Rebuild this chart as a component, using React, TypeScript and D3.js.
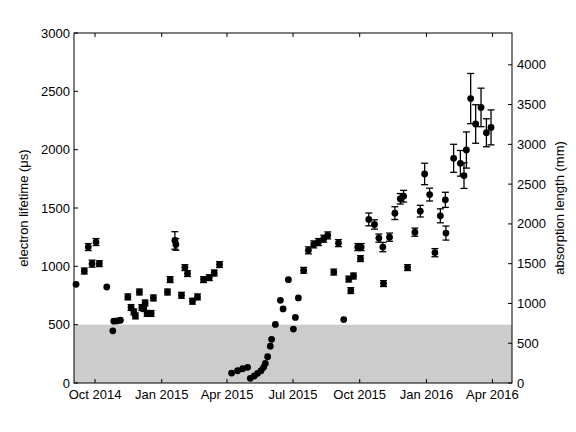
import * as d3 from 'd3';
import React, { useEffect, useRef } from 'react';

// days since 1 Oct 2014, electron lifetime (us), error (us, 0 = no bar)
const days = [
  -26.2, -14.8, -9.3, -4.1, 1.4, 5.9, 16.2, 24.5, 25.8, 30.4, 35.0, 45.2, 49.7, 53.5, 55.7, 61.2,
  64.5, 67.3, 69.1, 71.8, 77.4, 80.5, 99.9, 103.6, 110.1, 111.5, 119.2, 123.9, 127.5, 134.4, 141.3,
  149.6, 157.5, 164.4, 171.7,
  188.3, 196.6, 203.5, 210.4, 214.1, 219.6, 224.2, 228.9, 232.5, 234.8, 238.0, 241.7, 243.5, 248.7,
  255.6, 259.3, 266.6, 273.5, 276.3, 280.4, 287.7, 294.2, 301.6, 308.1, 315.4, 320.9, 335.7, 329.2,
  343.0, 349.9, 352.7, 356.4, 362.3, 367.0, 366.1, 377.5, 385.4, 391.4, 396.9, 397.8, 406.1, 413.5,
  420.9, 425.5, 431.0, 441.1, 448.5, 454.5, 461.4, 468.7, 476.2, 483.1, 483.9, 494.5, 503.8, 508.8,
  512.1, 518.0, 524.9, 532.3, 539.7, 546.1
];
const lifetime = [
  846, 960, 1165, 1023, 1208, 1023, 823, 447, 530, 532, 538, 738, 647, 609, 575, 780,
  647, 638, 686, 596, 596, 729, 780, 886, 1222, 1188, 752, 989, 938, 701, 738,
  886, 903, 943, 1015,
  85, 105, 122, 134, 40, 60, 83, 105, 134, 168, 225, 316, 374, 502,
  709, 635, 886, 462, 562, 729, 966, 1137, 1188, 1208, 1237, 1265, 1199, 951,
  544, 891, 792, 917, 1165, 1165, 1066, 1402, 1359, 1242, 1165, 852, 1250, 1456,
  1579, 1601, 989, 1293, 1473, 1792, 1615, 1117, 1433, 1570, 1285, 1926, 1883, 1778,
  1997, 2438, 2220, 2362, 2145, 2191
];
const err = [
  0, 25, 30, 30, 30, 25, 0, 0, 0, 0, 0, 25, 25, 25, 25, 25,
  25, 25, 25, 25, 25, 25, 25, 25, 75, 50, 25, 25, 25, 25, 25,
  25, 25, 25, 25,
  0, 0, 0, 0, 0, 0, 0, 0, 0, 0, 0, 0, 0, 0,
  0, 0, 0, 0, 0, 0, 25, 30, 30, 30, 30, 30, 30, 25,
  0, 25, 25, 25, 30, 30, 25, 55, 40, 35, 40, 25, 35, 55,
  45, 50, 25, 35, 50, 92, 55, 35, 60, 65, 60, 120, 110, 110,
  155, 215, 165, 165, 120, 150
];
const xTicks = ['2014-10-01', '2015-01-01', '2015-04-01', '2015-07-01', '2015-10-01', '2016-01-01', '2016-04-01'];
const leftTicks = [0, 500, 1000, 1500, 2000, 2500, 3000];
const rightTicks = [0, 500, 1000, 1500, 2000, 2500, 3000, 3500, 4000];

const App = () => {
  const ref = useRef<SVGSVGElement>(null);
  useEffect(() => {
    const svg = d3.select(ref.current);
    svg.selectAll('*').remove();
    const m = { l: 74, r: 512, t: 33, b: 383 };
    const t0 = new Date(2014, 9, 1);
    const toDate = (d: number) => new Date(t0.getTime() + d * 864e5);
    const x = d3.scaleTime().domain([toDate(-29), toDate(575)]).range([m.l, m.r]);
    const y = d3.scaleLinear().domain([0, 3000]).range([m.b, m.t]);
    const y2 = d3.scaleLinear().domain([0, 4400]).range([m.b, m.t]);
    const font = 'Liberation Sans, Arial, sans-serif';

    svg.append('rect').attr('x', m.l).attr('y', y(500)).attr('width', m.r - m.l)
      .attr('height', y(0) - y(500)).attr('fill', '#cccccc');

    const g = svg.append('g').attr('stroke', 'black').attr('fill', 'black');
    days.forEach((d, i) => {
      const cx = x(toDate(d));
      if (err[i] > 0) {
        const lo = y(lifetime[i] - err[i]), hi = y(lifetime[i] + err[i]);
        g.append('line').attr('x1', cx).attr('x2', cx).attr('y1', lo).attr('y2', hi).attr('stroke-width', 1.3);
        [lo, hi].forEach((yy) => g.append('line').attr('x1', cx - 3.5).attr('x2', cx + 3.5)
          .attr('y1', yy).attr('y2', yy).attr('stroke-width', 1.3));
      }
      g.append('circle').attr('cx', cx).attr('cy', y(lifetime[i])).attr('r', 3.4).attr('stroke', 'none');
    });

    const ax = svg.append('g').attr('stroke', 'black').attr('stroke-width', 1).attr('fill', 'none');
    ax.append('rect').attr('x', m.l).attr('y', m.t).attr('width', m.r - m.l).attr('height', m.b - m.t);
    const txt = svg.append('g').attr('font-family', font).attr('font-size', 13).attr('fill', 'black');
    xTicks.forEach((s) => {
      const dt = new Date(s + 'T00:00:00');
      const px = x(dt);
      ax.append('line').attr('x1', px).attr('x2', px).attr('y1', m.b).attr('y2', m.b - 4);
      ax.append('line').attr('x1', px).attr('x2', px).attr('y1', m.t).attr('y2', m.t + 4);
      txt.append('text').attr('x', px).attr('y', m.b + 16).attr('text-anchor', 'middle')
        .text(d3.timeFormat('%b %Y')(dt));
    });
    leftTicks.forEach((v) => {
      ax.append('line').attr('x1', m.l).attr('x2', m.l + 4).attr('y1', y(v)).attr('y2', y(v));
      txt.append('text').attr('x', m.l - 4).attr('y', y(v) + 4.5).attr('text-anchor', 'end').text(v);
    });
    rightTicks.forEach((v) => {
      ax.append('line').attr('x1', m.r).attr('x2', m.r - 4).attr('y1', y2(v)).attr('y2', y2(v));
      txt.append('text').attr('x', m.r + 5).attr('y', y2(v) + 4.5).text(v);
    });
    txt.append('text').attr('transform', `translate(28,${(m.t + m.b) / 2}) rotate(-90)`)
      .attr('text-anchor', 'middle').text('electron lifetime (\u03bcs)');
    txt.append('text').attr('transform', `translate(564,${(m.t + m.b) / 2}) rotate(-90)`)
      .attr('text-anchor', 'middle').text('absorption length (mm)');
  }, []);
  return <svg ref={ref} width={576} height={432} style={{ position: 'absolute', left: 0, top: 0 }} />;
};

export default App;
